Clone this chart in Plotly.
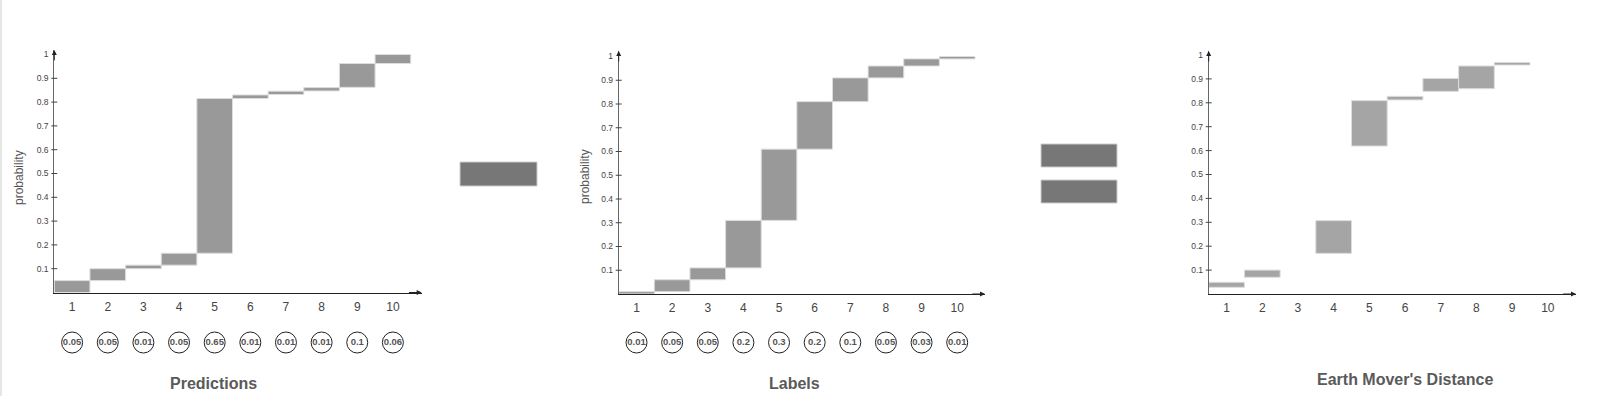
import plotly.graph_objects as go

# ---------------- data ----------------
categories = [1, 2, 3, 4, 5, 6, 7, 8, 9, 10]
category_labels = ["1", "2", "3", "4", "5", "6", "7", "8", "9", "10"]

pred_probs = [0.05, 0.05, 0.01, 0.05, 0.65, 0.01, 0.01, 0.01, 0.1, 0.06]
label_probs = [0.01, 0.05, 0.05, 0.2, 0.3, 0.2, 0.1, 0.05, 0.03, 0.01]

# cumulative bars as drawn (bottom / top of each floating bar)
pred_low = [0.0, 0.05, 0.10, 0.115, 0.165, 0.815, 0.832, 0.847, 0.862, 0.962]
pred_high = [0.05, 0.10, 0.115, 0.165, 0.815, 0.830, 0.846, 0.861, 0.962, 1.0]

lab_low = [0.0, 0.01, 0.06, 0.11, 0.31, 0.61, 0.81, 0.91, 0.96, 0.99]
lab_high = [0.01, 0.06, 0.11, 0.31, 0.61, 0.81, 0.91, 0.96, 0.99, 1.0]

emd_low = [0.028, 0.07, None, 0.17, 0.619, 0.812, 0.848, 0.859, 0.958, None]
emd_high = [0.049, 0.10, None, 0.307, 0.809, 0.827, 0.902, 0.954, 0.969, None]

y_tick_vals = [0.1, 0.2, 0.3, 0.4, 0.5, 0.6, 0.7, 0.8, 0.9, 1.0]
y_tick_text = ["0.1", "0.2", "0.3", "0.4", "0.5", "0.6", "0.7", "0.8", "0.9", "1"]

titles = ["Predictions", "Labels", "Earth Mover's Distance"]
y_title = "probability"

# ---------------- layout helpers ----------------
W, H = 1600, 396
FONT = "Liberation Sans, Arial, Helvetica, sans-serif"


def px(p):
    return p / W


def py(p):
    return 1 - p / H


panels = [
    dict(x0=54.3, w=35.64, xend=421.7, yzero=292.5, yone=54.5, ytop=50,
         low=pred_low, high=pred_high, color="#999999"),
    dict(x0=618.7, w=35.63, xend=985.0, yzero=294.0, yone=56.5, ytop=51,
         low=lab_low, high=lab_high, color="#999999"),
    dict(x0=1208.7, w=35.7, xend=1576.0, yzero=294.0, yone=55.0, ytop=51,
         low=emd_low, high=emd_high, color="#a5a5a5"),
]

fig = go.Figure()
layout = dict(
    width=W, height=H, margin=dict(l=0, r=0, t=0, b=0),
    paper_bgcolor="white", plot_bgcolor="white", showlegend=False,
    barmode="overlay", font=dict(family=FONT),
)
shapes = []
annotations = []

for i, p in enumerate(panels):
    sfx = "" if i == 0 else str(i + 1)
    xr_end = 0.5 + (p["xend"] - p["x0"]) / p["w"]
    yr_end = (p["yzero"] - p["ytop"]) / (p["yzero"] - p["yone"])
    layout["xaxis" + sfx] = dict(
        domain=[px(p["x0"]), px(p["xend"])], range=[0.5, xr_end],
        anchor="y" + sfx, showline=True, linecolor="#222222", linewidth=1,
        tickvals=categories, ticktext=category_labels, ticks="",
        ticklabelstandoff=3,
        tickfont=dict(size=12, color="#444444", family=FONT),
        showgrid=False, zeroline=False, fixedrange=True,
    )
    layout["yaxis" + sfx] = dict(
        domain=[py(p["yzero"]), py(p["ytop"])], range=[0, yr_end],
        anchor="x" + sfx, showline=True, linecolor="#666666", linewidth=1,
        tickvals=y_tick_vals, ticktext=y_tick_text, ticks="",
        ticklabelstandoff=3,
        tickfont=dict(size=8.5, color="#444444", family=FONT),
        showgrid=False, zeroline=False, fixedrange=True,
    )
    xs, bases, heights = [], [], []
    for c, lo, hi in zip(categories, p["low"], p["high"]):
        if lo is None:
            continue
        xs.append(c)
        bases.append(lo)
        heights.append(hi - lo)
    fig.add_trace(go.Bar(
        x=xs, y=heights, base=bases, width=1,
        marker=dict(color=p["color"], line=dict(color="#dddddd", width=1)),
        xaxis="x" + sfx, yaxis="y" + sfx, hoverinfo="skip",
    ))
    # tick marks crossing the y axis
    dom_px = p["xend"] - p["x0"]
    for v in y_tick_vals[:-1]:
        shapes.append(dict(
            type="line", xref="x" + sfx + " domain", yref="y" + sfx,
            x0=-3 / dom_px, x1=3 / dom_px, y0=v, y1=v,
            line=dict(color="#444444", width=1),
        ))
    # arrow heads
    annotations.append(dict(
        x=xr_end, y=0, ax=xr_end - 0.4, ay=0, xref="x" + sfx, yref="y" + sfx,
        axref="x" + sfx, ayref="y" + sfx, text="", showarrow=True,
        arrowhead=2, arrowsize=1, arrowwidth=1, arrowcolor="#222222",
    ))
    annotations.append(dict(
        x=0.5, y=yr_end, ax=0.5, ay=yr_end - 0.05, xref="x" + sfx, yref="y" + sfx,
        axref="x" + sfx, ayref="y" + sfx, text="", showarrow=True,
        arrowhead=2, arrowsize=1, arrowwidth=1, arrowcolor="#222222",
    ))

# circles with probabilities (below the first two panels)
for i, probs in enumerate([pred_probs, label_probs]):
    sfx = "" if i == 0 else str(i + 1)
    yname = "yaxis" + str(4 + i)
    layout[yname] = dict(domain=[py(355), py(330)], range=[0, 1], visible=False,
                         anchor="x" + sfx, fixedrange=True)
    fig.add_trace(go.Scatter(
        x=categories, y=[0.5] * len(categories), mode="markers+text",
        text=["<b>%s</b>" % v for v in probs], textposition="middle center",
        textfont=dict(size=9.5, color="#555555", family=FONT),
        marker=dict(size=21, color="white", line=dict(color="#222222", width=1)),
        xaxis="x" + sfx, yaxis="y" + str(4 + i), hoverinfo="skip", cliponaxis=False,
    ))

# panel titles
for t, (cx, cy) in zip(titles, [(213, 383), (794, 383), (1405, 379)]):
    annotations.append(dict(
        x=px(cx), y=py(cy), xref="paper", yref="paper", text="<b>%s</b>" % t,
        showarrow=False, xanchor="center", yanchor="middle",
        font=dict(size=16, color="#5a5a5a", family=FONT),
    ))

# y axis titles
for cx, cy in [(19, 178), (585, 177)]:
    annotations.append(dict(
        x=px(cx), y=py(cy), xref="paper", yref="paper", text=y_title,
        showarrow=False, textangle=-90, xanchor="center", yanchor="middle",
        font=dict(size=12, color="#555555", family=FONT),
    ))

# minus and equals glyphs
for (x0, y0, x1, y1) in [(460, 162, 537, 186), (1041, 144, 1117, 167), (1041, 180, 1117, 203)]:
    shapes.append(dict(
        type="rect", xref="paper", yref="paper",
        x0=px(x0), x1=px(x1), y0=py(y1), y1=py(y0),
        fillcolor="#777777", line=dict(color="#cccccc", width=1),
    ))

# faint left border line
shapes.append(dict(type="line", xref="paper", yref="paper", x0=px(1), x1=px(1),
                   y0=0, y1=1, line=dict(color="#e6e6e6", width=2)))

layout["shapes"] = shapes
layout["annotations"] = annotations
fig.update_layout(**layout)

fig.write_html("out.html")
